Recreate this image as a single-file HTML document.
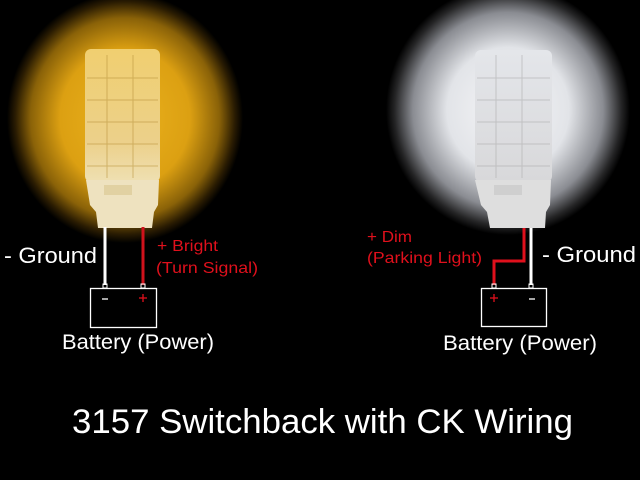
<!DOCTYPE html>
<html><head><meta charset="utf-8"><style>
html,body{margin:0;padding:0;background:#000;}
svg{display:block;}
text{font-family:"Liberation Sans",Arial,sans-serif;}
</style></head><body>
<svg width="640" height="480" viewBox="0 0 640 480" xmlns="http://www.w3.org/2000/svg">
<defs>
<radialGradient id="ga" cx="0.5" cy="0.5" r="0.5">
<stop offset="0" stop-color="#eab21e"/><stop offset="0.55" stop-color="#dca012"/><stop offset="0.8" stop-color="#8a6208"/><stop offset="0.93" stop-color="#2a1c02"/><stop offset="1" stop-color="#000"/>
</radialGradient>
<radialGradient id="gw" cx="0.5" cy="0.5" r="0.5">
<stop offset="0" stop-color="#f6f6f8"/><stop offset="0.5" stop-color="#e2e4e8"/><stop offset="0.78" stop-color="#8a8c92"/><stop offset="0.93" stop-color="#252526"/><stop offset="1" stop-color="#000"/>
</radialGradient>
<linearGradient id="ba" x1="0" y1="0" x2="0" y2="1"><stop offset="0" stop-color="#f0cf70"/><stop offset="0.7" stop-color="#ecd08a"/><stop offset="1" stop-color="#efe0b2"/></linearGradient>
<linearGradient id="bw" x1="0" y1="0" x2="0" y2="1"><stop offset="0" stop-color="#e4e6ea"/><stop offset="1" stop-color="#d8d8da"/></linearGradient>
</defs>
<rect width="640" height="480" fill="#000"/>
<ellipse cx="125" cy="118" rx="118" ry="125" fill="url(#ga)"/>
<ellipse cx="508" cy="110" rx="122" ry="125" fill="url(#gw)"/>
<!-- amber bulb -->
<rect x="85" y="49" width="75" height="133" rx="6" fill="url(#ba)"/>
<g stroke="#b8923a" stroke-width="1" opacity="0.55">
<line x1="87" y1="78" x2="158" y2="78"/><line x1="87" y1="100" x2="158" y2="100"/><line x1="87" y1="122" x2="158" y2="122"/><line x1="87" y1="144" x2="158" y2="144"/><line x1="87" y1="166" x2="158" y2="166"/>
<line x1="107" y1="55" x2="107" y2="178"/><line x1="133" y1="55" x2="133" y2="178"/></g>
<path d="M86 180 H159 L158 205 L154 212 L152 228 H98 L96 212 L90 205 Z" fill="#eee2bf"/>
<rect x="104" y="185" width="28" height="10" fill="#d9c690" opacity="0.6"/>
<!-- white bulb -->
<rect x="475" y="50" width="77" height="132" rx="6" fill="url(#bw)"/>
<g stroke="#aaa" stroke-width="1" opacity="0.55">
<line x1="477" y1="78" x2="550" y2="78"/><line x1="477" y1="100" x2="550" y2="100"/><line x1="477" y1="122" x2="550" y2="122"/><line x1="477" y1="144" x2="550" y2="144"/><line x1="477" y1="166" x2="550" y2="166"/>
<line x1="496" y1="55" x2="496" y2="178"/><line x1="522" y1="55" x2="522" y2="178"/></g>
<path d="M475 180 H551 L550 205 L546 212 L545 228 H490 L487 212 L481 205 Z" fill="#dedede"/>
<rect x="494" y="185" width="28" height="10" fill="#c4c4c4" opacity="0.6"/>
<!-- left wires -->
<line x1="105" y1="227" x2="105" y2="285" stroke="#fff" stroke-width="3"/>
<line x1="143" y1="227" x2="143" y2="285" stroke="#d0121c" stroke-width="3"/>
<rect x="90.5" y="288.5" width="66" height="39" fill="none" stroke="#fff" stroke-width="1.3"/>
<rect x="103" y="284" width="4" height="4" fill="none" stroke="#fff" stroke-width="1"/>
<rect x="141" y="284" width="4" height="4" fill="none" stroke="#fff" stroke-width="1"/>
<line x1="102" y1="299" x2="108" y2="299" stroke="#fff" stroke-width="1.3"/>
<line x1="139" y1="298" x2="147" y2="298" stroke="#e0101c" stroke-width="1.3"/><line x1="143" y1="294" x2="143" y2="302" stroke="#e0101c" stroke-width="1.3"/>
<!-- right wires -->
<polyline points="524,228 524,261 494,261 494,285" fill="none" stroke="#e0101c" stroke-width="3"/>
<line x1="531" y1="228" x2="531" y2="285" stroke="#fff" stroke-width="3"/>
<rect x="481.5" y="288.5" width="65" height="38" fill="none" stroke="#fff" stroke-width="1.3"/>
<rect x="492" y="284" width="4" height="4" fill="none" stroke="#fff" stroke-width="1"/>
<rect x="529" y="284" width="4" height="4" fill="none" stroke="#fff" stroke-width="1"/>
<line x1="490" y1="298" x2="498" y2="298" stroke="#e0101c" stroke-width="1.3"/><line x1="494" y1="294" x2="494" y2="302" stroke="#e0101c" stroke-width="1.3"/>
<line x1="529" y1="299" x2="535" y2="299" stroke="#fff" stroke-width="1.3"/>
<!-- text -->
<text x="4" y="263" fill="#fff" font-size="22" textLength="93" lengthAdjust="spacingAndGlyphs">- Ground</text>
<text x="157" y="251" fill="#e0101c" font-size="16" textLength="61" lengthAdjust="spacingAndGlyphs">+ Bright</text>
<text x="156" y="273" fill="#e0101c" font-size="16" textLength="102" lengthAdjust="spacingAndGlyphs">(Turn Signal)</text>
<text x="62" y="349" fill="#fff" font-size="21" textLength="152" lengthAdjust="spacingAndGlyphs">Battery (Power)</text>
<text x="367" y="242" fill="#e0101c" font-size="16" textLength="45" lengthAdjust="spacingAndGlyphs">+ Dim</text>
<text x="367" y="263" fill="#e0101c" font-size="16" textLength="115" lengthAdjust="spacingAndGlyphs">(Parking Light)</text>
<text x="542" y="262" fill="#fff" font-size="22" textLength="94" lengthAdjust="spacingAndGlyphs">- Ground</text>
<text x="443" y="350" fill="#fff" font-size="21" textLength="154" lengthAdjust="spacingAndGlyphs">Battery (Power)</text>
<text x="72" y="433" fill="#fff" font-size="34" textLength="501" lengthAdjust="spacingAndGlyphs">3157 Switchback with CK Wiring</text>
</svg>
</body></html>
